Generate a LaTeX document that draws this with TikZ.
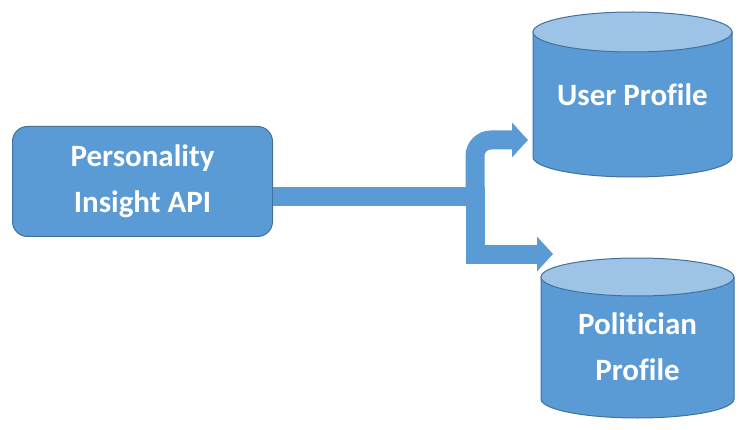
\documentclass[tikz,border=0pt]{standalone}
\usepackage{fontspec}
\setmainfont{Carlito}[Ligatures=NoCommon]
\usetikzlibrary{arrows.meta}
\definecolor{mainblue}{HTML}{5B9BD5}
\definecolor{edgeblue}{HTML}{41719C}
\definecolor{lightblue}{HTML}{9DC3E6}
\tikzset{
  lbl/.style={text=white, font=\fontsize{31}{46}\selectfont\bfseries, align=center},
  apibox/.style={draw=edgeblue, line width=1pt, fill=mainblue, rounded corners=15pt},
  flow/.style={draw=mainblue, line width=19pt, -{Triangle[length=16pt,width=34pt]}},
  cylbody/.style={draw=edgeblue, line width=1pt, fill=mainblue},
  cyltop/.style={draw=edgeblue, line width=1pt, fill=lightblue}
}
\begin{document}
\begin{tikzpicture}[x=1pt,y=1pt]
\useasboundingbox (0,0) rectangle (739,429);
% API box
\node[apibox, minimum width=260pt, minimum height=110pt, anchor=south west] (api) at (12,192) {};
\node[lbl] (apitext) at (api.center) {Personality\\Insight API};
% User Profile cylinder
\path[cylbody] (533,397) -- (533,272) arc[start angle=180,end angle=360,x radius=99.5,y radius=20] -- (732,397) -- cycle;
\path[cyltop] (632.5,397) ellipse[x radius=99.5,y radius=20];
\node[lbl] (user) at (632.5,334) {User Profile};
% Politician Profile cylinder
\path[cylbody] (541,152) -- (541,30) arc[start angle=180,end angle=360,x radius=96.5,y radius=19] -- (734,152) -- cycle;
\path[cyltop] (637.5,152) ellipse[x radius=96.5,y radius=19];
\node[lbl] (pol) at (637.5,82) {Politician\\Profile};
% connectors
\coordinate (split) at (475,232);
\coordinate (userin) at (528,289);
\coordinate (polin) at (553,175);
\draw[draw=mainblue, line width=19pt] (api.east |- split) -- ([xshift=10pt]split);
\draw[flow, rounded corners=16pt] ([yshift=-6pt]split) |- (userin);
\draw[flow] ([yshift=6pt]split) |- (polin);
\end{tikzpicture}
\end{document}
